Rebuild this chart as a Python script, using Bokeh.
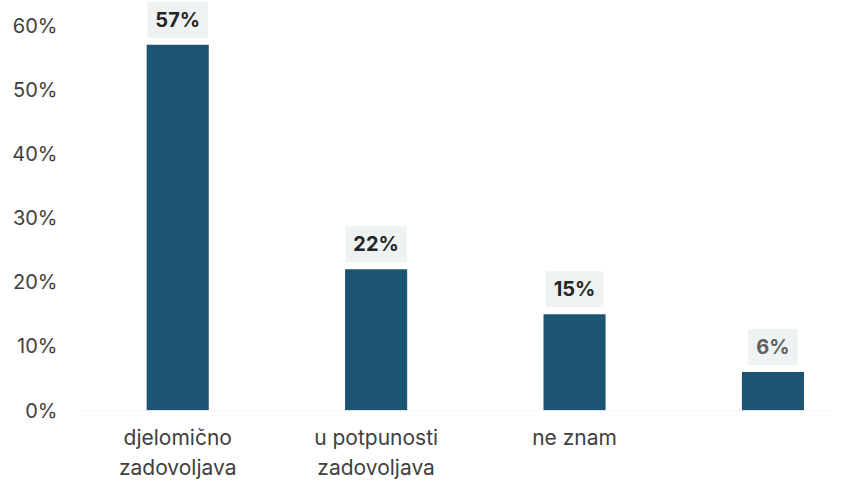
from bokeh.plotting import figure
from bokeh.models import ColumnDataSource, FixedTicker, Range1d
from bokeh.core.properties import value
from bokeh.embed import file_html
from bokeh.resources import INLINE

categories = ["djelomično\nzadovoljava", "u potpunosti\nzadovoljava", "ne znam", ""]
values = [57, 22, 15, 6]
value_labels = ["57%", "22%", "15%", "6%"]
label_colors = ["#262626", "#262626", "#262626", "#5f5f5f"]
y_ticks = [0, 10, 20, 30, 40, 50, 60]

xs = list(range(len(categories)))
src = ColumnDataSource(dict(x=xs, top=values, lab=value_labels, col=label_colors))

p = figure(width=845, height=486, output_backend="svg", toolbar_location=None,
           x_range=Range1d(-0.5, 3.29), y_range=Range1d(0, 60),
           min_border_left=78, min_border_right=15, min_border_top=25, min_border_bottom=76)
p.outline_line_color = None
p.background_fill_color = "white"
p.border_fill_color = "white"
p.grid.visible = False

p.vbar(x="x", top="top", width=0.313, bottom=0, source=src,
       fill_color="#1c5573", line_color=None)

# faint baseline
p.line(x=[-0.5, 3.29], y=[0, 0], line_color="#f0f0f0", line_width=1)

lbl = p.text(x="x", y="top", text="lab", source=src, text_align="center",
             text_baseline="bottom", y_offset=-7, text_color="col",
             text_font=value("Inter"), text_font_size="20px", text_font_style="bold",
             background_fill_color="#eff2f2", padding=(8, 6))
lbl.level = "overlay"

p.yaxis.ticker = FixedTicker(ticks=y_ticks)
p.yaxis.major_label_overrides = {t: f"{t}%" for t in y_ticks}
p.xaxis.ticker = FixedTicker(ticks=xs)
p.xaxis.major_label_overrides = {i: c for i, c in zip(xs, categories)}

for ax in (p.xaxis[0], p.yaxis[0]):
    ax.axis_line_color = None
    ax.major_tick_line_color = None
    ax.minor_tick_line_color = None
    ax.major_tick_out = 0
    ax.major_tick_in = 0
    ax.major_label_text_font = "Inter"
    ax.major_label_text_color = "#404040"
p.yaxis.major_label_text_font_size = "20px"
p.xaxis.major_label_text_font_size = "21px"
p.yaxis.major_label_standoff = 21
p.xaxis.major_label_standoff = 14

open("out.html", "w").write(file_html(p, INLINE))
